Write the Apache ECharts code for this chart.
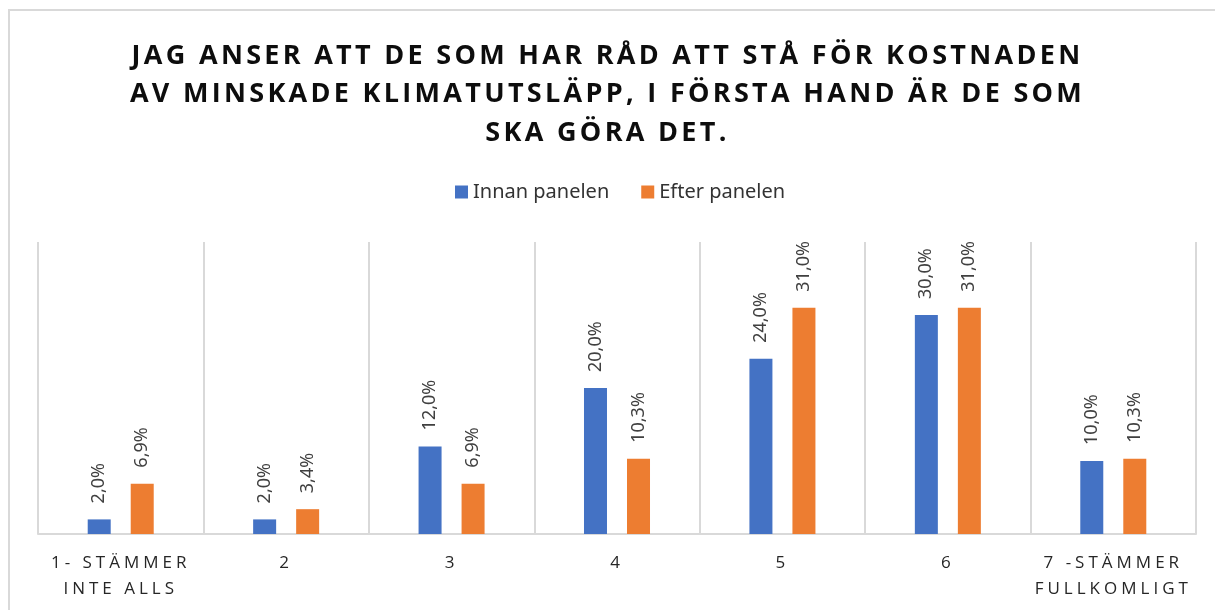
<!DOCTYPE html>
<html>
<head>
<meta charset="utf-8">
<script src="https://cdn.jsdelivr.net/npm/echarts@6/dist/echarts.min.js"></script>
<style>
  html, body { margin: 0; padding: 0; background: #fff; }
  #main { width: 1215px; height: 610px; }
</style>
</head>
<body>
<div id="main"></div>
<script>
// data (percent)
var categories = ['1- STÄMMER\nINTE ALLS', '2', '3', '4', '5', '6', '7 -STÄMMER\nFULLKOMLIGT'];
var seriesNames = ['Innan panelen', 'Efter panelen'];
var innanValues = [2.0, 2.0, 12.0, 20.0, 24.0, 30.0, 10.0];
var efterValues = [6.9, 3.4, 6.9, 10.3, 31.0, 31.0, 10.3];

// the title and the axis labels are letter-spaced in the original;
// echarts has no letterSpacing option so set it on the canvas, only for "Open Sans" text
var origFillText = CanvasRenderingContext2D.prototype.fillText;
CanvasRenderingContext2D.prototype.fillText = function (t, x, y, maxW) {
  if ('letterSpacing' in this) {
    var f = this.font || '';
    var sp = '0px';
    if (f.indexOf('Open Sans') >= 0) {
      sp = /bold|700/.test(f) ? '3.3px' : '4px';
    }
    this.letterSpacing = sp;
  }
  if (maxW == null) origFillText.call(this, t, x, y);
  else origFillText.call(this, t, x, y, maxW);
};

var chart = echarts.init(document.getElementById('main'), null, { renderer: 'canvas' });

// procent med decimalkomma
function pct(p) {
  return p.value.toFixed(1).replace('.', ',') + '%';
}

var labelStyle = {
  show: true,
  position: 'top',
  distance: 16,
  rotate: 90,
  align: 'left',
  verticalAlign: 'middle',
  fontFamily: 'Noto Sans',
  fontSize: 18,
  color: '#404040',
  formatter: pct
};

var option = {
  backgroundColor: '#fff',
  animation: false,
  color: ['#4472C4', '#ED7D31'],
  title: {
    text: 'JAG ANSER ATT DE SOM HAR RÅD ATT STÅ FÖR KOSTNADEN\nAV MINSKADE KLIMATUTSLÄPP, I FÖRSTA HAND ÄR DE SOM\nSKA GÖRA DET.',
    left: 'center',
    top: 32,
    textStyle: {
      fontFamily: 'Open Sans',
      fontWeight: 'bold',
      fontSize: 27,
      lineHeight: 38.5,
      padding: [0, 0, 0, 17],
      color: '#0d0d0d'
    }
  },
  legend: {
    data: seriesNames,
    top: 177,
    left: 450,
    itemWidth: 13,
    itemHeight: 13,
    itemGap: 32,
    icon: 'rect',
    textStyle: {
      fontFamily: 'Noto Sans',
      fontSize: 20,
      color: '#333333'
    }
  },
  grid: {
    left: 38,
    right: 19,
    top: 242,
    bottom: 76
  },
  xAxis: {
    type: 'category',
    data: categories,
    axisLine: { lineStyle: { color: '#d9d9d9', width: 2 } },
    axisTick: { show: false },
    splitLine: { show: true, lineStyle: { color: '#d9d9d9', width: 2 } },
    axisLabel: {
      margin: 16,
      interval: 0,
      fontFamily: 'Open Sans',
      fontSize: 17,
      lineHeight: 26,
      color: '#262626'
    }
  },
  yAxis: {
    type: 'value',
    min: 0,
    max: 40,
    show: false,
    splitLine: { show: false }
  },
  series: [{
    name: seriesNames[0],
    type: 'bar',
    data: innanValues,
    barWidth: 23,
    barGap: '87%',
    label: labelStyle
  }, {
    name: seriesNames[1],
    type: 'bar',
    data: efterValues,
    barWidth: 23,
    barGap: '87%',
    label: labelStyle
  }],
  graphic: [{
    type: 'rect',
    silent: true,
    shape: { x: 9, y: 10, width: 1220, height: 620 },
    style: { fill: 'none', stroke: '#d9d9d9', lineWidth: 2 }
  }]
};

chart.setOption(option);
</script>
</body>
</html>
